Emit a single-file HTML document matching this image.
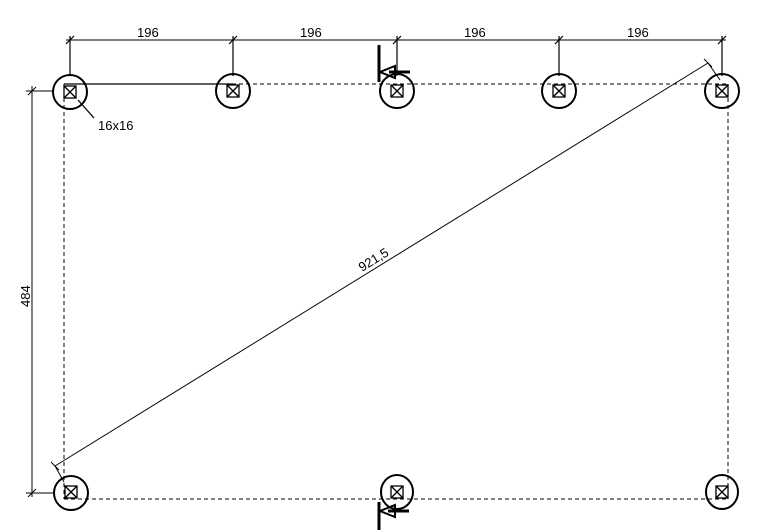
<!DOCTYPE html>
<html><head><style>html,body{margin:0;padding:0;background:#fff}svg{display:block}text{font-family:"Liberation Sans",sans-serif;font-size:13px;fill:#000}</style></head>
<body>
<svg width="768" height="530" viewBox="0 0 768 530" xmlns="http://www.w3.org/2000/svg" stroke="#000" fill="none">
<defs>
<g id="s"><rect x="-6" y="-6" width="12" height="12"/><line x1="-6" y1="-6" x2="6" y2="6"/><line x1="6" y1="-6" x2="-6" y2="6"/></g>
</defs>
<!-- dashed rectangle -->
<g stroke-width="1" stroke-dasharray="4,3">
<line x1="64" y1="84" x2="728" y2="84"/>
<line x1="64" y1="499" x2="728" y2="499"/>
<line x1="64" y1="84" x2="64" y2="499"/>
<line x1="728" y1="84" x2="728" y2="499"/>
</g>
<line x1="64" y1="84" x2="233" y2="84" stroke-width="1.3"/>
<!-- top dimension -->
<line x1="66" y1="40" x2="726" y2="40" stroke-width="1"/>
<g stroke-width="1.2">
<line x1="70" y1="36" x2="70" y2="76"/><line x1="233" y1="36" x2="233" y2="76"/><line x1="397" y1="36" x2="397" y2="76"/><line x1="559" y1="36" x2="559" y2="76"/><line x1="722" y1="36" x2="722" y2="76"/>
<line x1="66" y1="44" x2="74" y2="36"/><line x1="229" y1="44" x2="237" y2="36"/><line x1="393" y1="44" x2="401" y2="36"/><line x1="555" y1="44" x2="563" y2="36"/><line x1="718" y1="44" x2="726" y2="36"/>
</g>
<g stroke="none"><text x="137" y="37">196</text><text x="300" y="37">196</text><text x="464" y="37">196</text><text x="627" y="37">196</text></g>
<!-- left dimension -->
<line x1="32" y1="86" x2="32" y2="497" stroke-width="1"/>
<line x1="26" y1="91" x2="54" y2="91"/><line x1="26" y1="493" x2="54" y2="493"/>
<line x1="28" y1="95" x2="36" y2="87"/><line x1="28" y1="497" x2="36" y2="489"/>
<text stroke="none" transform="translate(30,307) rotate(-90)">484</text>
<!-- diagonal -->
<line x1="55" y1="466" x2="708" y2="63"/>
<line x1="51" y1="462" x2="59" y2="470"/><line x1="704" y1="59" x2="712" y2="67"/>
<line x1="55" y1="466" x2="64" y2="482"/><line x1="708" y1="63" x2="720" y2="80"/>
<text stroke="none" transform="translate(362,272) rotate(-31.7)">921,5</text>
<!-- columns -->
<g stroke-width="2">
<circle cx="70" cy="92" r="17"/><circle cx="233" cy="91" r="17"/><circle cx="397" cy="91" r="17"/><circle cx="559" cy="91" r="17"/><circle cx="722" cy="91" r="17"/>
<ellipse cx="71" cy="493" rx="17" ry="17"/><ellipse cx="397" cy="492" rx="16" ry="17"/><ellipse cx="722" cy="492" rx="16" ry="17"/>
</g>
<g stroke-width="1.3">
<use href="#s" x="70" y="92"/><use href="#s" x="233" y="91"/><use href="#s" x="397" y="91"/><use href="#s" x="559" y="91"/><use href="#s" x="722" y="91"/>
<use href="#s" x="71" y="492"/><use href="#s" x="397" y="492"/><use href="#s" x="722" y="492"/>
</g>
<!-- leader 16x16 -->
<line x1="78" y1="100" x2="94" y2="118" stroke-width="1.3"/>
<text stroke="none" x="98" y="130">16x16</text>
<!-- section markers -->
<g stroke-width="3">
<line x1="379" y1="45" x2="379" y2="82"/>
<line x1="389" y1="72" x2="410" y2="72"/>
<line x1="379" y1="502" x2="379" y2="530"/>
<line x1="388" y1="511" x2="409" y2="511"/>
</g>
<g stroke-width="2">
<path d="M380 72 L395 66 L395 78 Z"/>
<path d="M380 511 L395 505 L395 517 Z"/>
</g>
</svg>
</body></html>
